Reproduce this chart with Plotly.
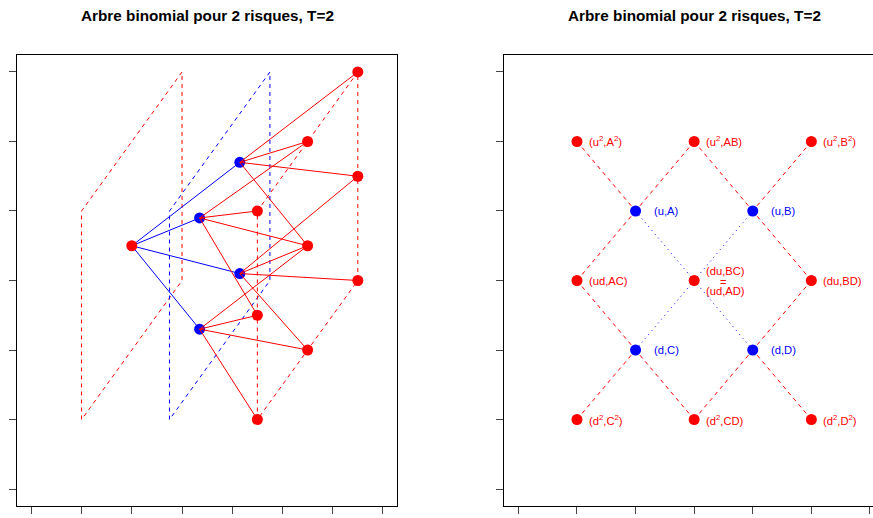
import plotly.graph_objects as go

# ---------------- Left panel data (projected 3D binomial tree) ----------------
root_x = [2.0]
root_y = [3.5]
t1_x = [3.35, 4.15, 3.35, 4.15]
t1_y = [2.3, 3.1, 3.9, 4.7]
t2_x = [4.5, 5.5, 6.5, 4.5, 5.5, 6.5, 4.5, 5.5, 6.5]
t2_y = [1.0, 2.0, 3.0, 2.5, 3.5, 4.5, 4.0, 5.0, 6.0]
t1_children = [[0, 1, 3, 4], [1, 2, 4, 5], [3, 4, 6, 7], [4, 5, 7, 8]]
plane_y = [1, 4, 6, 3, 1]
plane0_x = [1, 1, 3, 3, 1]
plane1_x = [2.75, 2.75, 4.75, 4.75, 2.75]
plane2_x = [4.5, 4.5, 6.5, 6.5, 4.5]

# ---------------- Right panel data (flattened lattice) ----------------
r_x = [1, 3, 5, 1, 3, 5, 1, 3, 5]
r_y = [5, 5, 5, 3, 3, 3, 1, 1, 1]
r_labels = ["(u<sup>2</sup>,A<sup>2</sup>)", "(u<sup>2</sup>,AB)", "(u<sup>2</sup>,B<sup>2</sup>)",
            "(ud,AC)", None, "(du,BD)",
            "(d<sup>2</sup>,C<sup>2</sup>)", "(d<sup>2</sup>,CD)", "(d<sup>2</sup>,D<sup>2</sup>)"]
mid_lines = ["(du,BC)", "=", "(ud,AD)"]
b_x = [2, 4, 2, 4]
b_y = [4, 4, 2, 2]
b_labels = ["(u,A)", "(u,B)", "(d,C)", "(d,D)"]
red_links = [(0, 0), (1, 0), (1, 1), (2, 1), (3, 0), (3, 2),
             (5, 1), (5, 3), (6, 2), (7, 2), (7, 3), (8, 3)]
blue_links = [(4, 0), (4, 1), (4, 2), (4, 3)]

title = "Arbre binomial pour 2 risques, T=2"
RED = "#FF0000"
BLUE = "#0000FF"
FONT = "Liberation Sans, Arial, sans-serif"

fig = go.Figure()

def seg_trace(xs, ys, color, dash, xa, ya, width=1):
    return go.Scatter(x=xs, y=ys, mode="lines", line=dict(color=color, width=width, dash=dash),
                      xaxis=xa, yaxis=ya, hoverinfo="skip", showlegend=False)

# ---- left panel ----
fig.add_trace(seg_trace(plane0_x, plane_y, RED, "4px,4px", "x", "y"))
fig.add_trace(seg_trace(plane1_x, plane_y, BLUE, "4px,4px", "x", "y"))
fig.add_trace(seg_trace(plane2_x, plane_y, RED, "4px,4px", "x", "y"))

ex, ey = [], []
for i in range(len(t1_x)):
    ex += [root_x[0], t1_x[i], None]
    ey += [root_y[0], t1_y[i], None]
fig.add_trace(seg_trace(ex, ey, BLUE, "solid", "x", "y"))

fig.add_trace(go.Scatter(x=t1_x, y=t1_y, mode="markers", marker=dict(color=BLUE, size=11),
                         xaxis="x", yaxis="y", showlegend=False, hoverinfo="skip"))

ex, ey = [], []
for i, ch in enumerate(t1_children):
    for k in ch:
        ex += [t1_x[i], t2_x[k], None]
        ey += [t1_y[i], t2_y[k], None]
fig.add_trace(seg_trace(ex, ey, RED, "solid", "x", "y"))

fig.add_trace(go.Scatter(x=root_x + t2_x, y=root_y + t2_y, mode="markers",
                         marker=dict(color=RED, size=11),
                         xaxis="x", yaxis="y", showlegend=False, hoverinfo="skip"))

# ---- right panel ----
ex, ey = [], []
for r, b in red_links:
    ex += [r_x[r], b_x[b], None]
    ey += [r_y[r], b_y[b], None]
fig.add_trace(seg_trace(ex, ey, RED, "4px,4px", "x2", "y2"))

ex, ey = [], []
for r, b in blue_links:
    ex += [r_x[r], b_x[b], None]
    ey += [r_y[r], b_y[b], None]
fig.add_trace(seg_trace(ex, ey, BLUE, "1px,4px", "x2", "y2"))

fig.add_trace(go.Scatter(x=r_x, y=r_y, mode="markers", marker=dict(color=RED, size=11),
                         xaxis="x2", yaxis="y2", showlegend=False, hoverinfo="skip"))
fig.add_trace(go.Scatter(x=b_x, y=b_y, mode="markers", marker=dict(color=BLUE, size=11),
                         xaxis="x2", yaxis="y2", showlegend=False, hoverinfo="skip"))

LAB = 11.2
annotations = []
for i, lab in enumerate(r_labels):
    if lab is None:
        continue
    annotations.append(dict(x=r_x[i], y=r_y[i], xref="x2", yref="y2", text=lab, showarrow=False,
                            xanchor="left", yanchor="middle", xshift=10,
                            font=dict(family=FONT, size=LAB, color=RED)))
for i, lab in enumerate(b_labels):
    annotations.append(dict(x=b_x[i], y=b_y[i], xref="x2", yref="y2", text=lab, showarrow=False,
                            xanchor="left", yanchor="middle", xshift=16,
                            font=dict(family=FONT, size=LAB, color=BLUE)))
mid_shift = [(10, "left", 10), (29, "center", -1), (10, "left", -10)]
for lab, (xs, anc, ys) in zip(mid_lines, mid_shift):
    annotations.append(dict(x=r_x[4], y=r_y[4], xref="x2", yref="y2", text=lab, showarrow=False,
                            xanchor=anc, yanchor="middle", xshift=xs, yshift=ys,
                            font=dict(family=FONT, size=LAB, color=RED)))

# titles
for cx in [207.2 / 873, 694.3 / 873]:
    annotations.append(dict(x=cx, y=1 - 15.5 / 518, xref="paper", yref="paper", text="<b>" + title + "</b>",
                            showarrow=False, xanchor="center", yanchor="middle",
                            font=dict(family=FONT, size=15.3, color="black")))

ydom = [12.3 / 518, 462.7 / 518]
axis_common = dict(showgrid=False, zeroline=False, showticklabels=False, ticks="outside",
                   ticklen=7, tickcolor="#444", tickwidth=1, showline=True, linecolor="black",
                   linewidth=1)

fig.update_layout(
    width=873, height=518, margin=dict(l=0, r=0, t=0, b=0),
    paper_bgcolor="white", plot_bgcolor="white", showlegend=False,
    xaxis=dict(domain=[17.3 / 873, 397 / 873], range=[-0.28, 7.28], tickvals=list(range(8)),
               mirror=True, **axis_common),
    yaxis=dict(domain=ydom, range=[-0.24, 6.24], tickvals=list(range(7)), mirror=True, **axis_common),
    xaxis2=dict(domain=[504.3 / 873, 1.0], range=[-0.24, 6.052], tickvals=list(range(7)),
                mirror=True, anchor="y2", **axis_common),
    yaxis2=dict(domain=ydom, range=[-0.24, 6.24], tickvals=list(range(7)), mirror=False,
                anchor="x2", **axis_common),
    annotations=annotations,
)

fig.write_html("out.html")
